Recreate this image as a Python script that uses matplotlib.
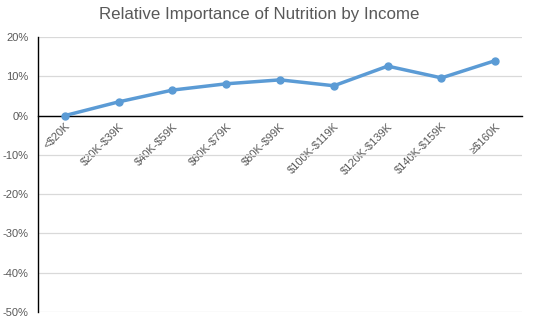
import matplotlib
matplotlib.use("Agg")
import matplotlib.pyplot as plt
from matplotlib.ticker import FuncFormatter

categories = ["<$20K", "$20K-$39K", "$40K-$59K", "$60K-$79K", "$80K-$99K",
              "$100K-$119K", "$120K-$139K", "$140K-$159K", "≥$160K"]
values = [0.0, 3.5, 6.5, 8.1, 9.1, 7.6, 12.6, 9.6, 14.0]
yticks = [20, 10, 0, -10, -20, -30, -40, -50]

plt.rcParams['font.family'] = ['Liberation Sans', 'DejaVu Sans']
plt.rcParams['text.parse_math'] = False

fig = plt.figure(figsize=(5.35, 3.28), dpi=100)
ax = fig.add_axes([0.071, 0.049, 0.905, 0.838])

x = list(range(len(categories)))
ax.plot(x, values, color="#5B9BD5", lw=2.5, marker="o", ms=5,
        solid_capstyle="round", zorder=3)

ax.set_xlim(-0.5, len(categories) - 0.5)
ax.set_ylim(-50, 20)
ax.set_yticks(yticks)
ax.yaxis.set_major_formatter(FuncFormatter(lambda v, p: f"{v:.0f}%"))
ax.grid(axis="y", color="#D9D9D9", lw=0.9)
ax.set_axisbelow(True)

for s in ["top", "right"]:
    ax.spines[s].set_visible(False)
ax.spines["left"].set_color("black")
ax.spines["left"].set_linewidth(1.0)
ax.spines["bottom"].set_position(("data", 0))
ax.spines["bottom"].set_color("black")
ax.spines["bottom"].set_linewidth(1.0)

ax.set_xticks(x)
ax.set_xticklabels(categories, rotation=45, ha="right", va="top",
                   rotation_mode="anchor", fontsize=8, color="#595959")
for t in ax.get_xticklabels():
    t.set_parse_math(False)
ax.tick_params(axis="x", length=0, pad=4)
ax.tick_params(axis="y", length=0, labelsize=8, labelcolor="#595959", pad=7)

fig.text(0.484, 0.955, "Relative Importance of Nutrition by Income",
         ha="center", va="center", fontsize=12.2, color="#595959")

fig.savefig("out.png", dpi=100)
